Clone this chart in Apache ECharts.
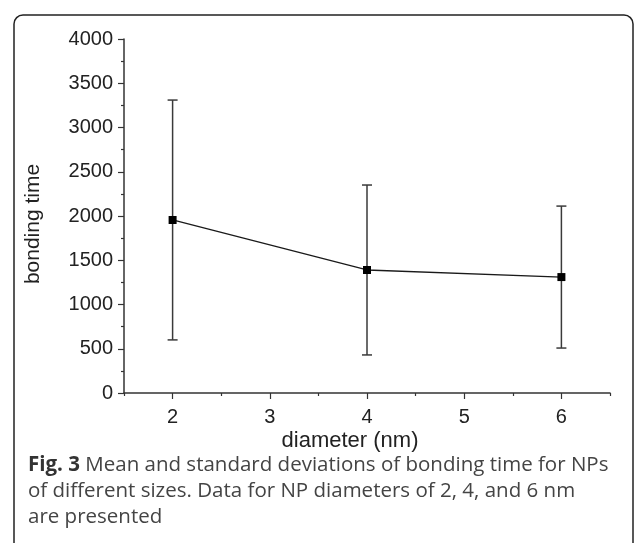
<!DOCTYPE html>
<html>
<head>
<meta charset="utf-8">
<script src="https://cdn.jsdelivr.net/npm/echarts@6/dist/echarts.min.js"></script>
<style>html,body{margin:0;padding:0;background:#fff}#c{width:634px;height:543px}</style>
</head>
<body>
<div id="c"></div>
<script>
// Data
const diameters = [2, 4, 6];
const meanTime = [1955, 1390, 1310];
const lowerTime = [600, 430, 508];
const upperTime = [3310, 2350, 2112];
const yTicks = [0, 500, 1000, 1500, 2000, 2500, 3000, 3500, 4000];
const xTickLabels = [2, 3, 4, 5, 6];
const xMinorTicks = [1.5, 2.5, 3.5, 4.5, 5.5, 6.5];
const xTitle = 'diameter (nm)';
const yTitle = 'bonding time';
const captionBold = 'Fig. 3';
const captionLines = [
  ' Mean and standard deviations of bonding time for NPs',
  'of different sizes. Data for NP diameters of 2, 4, and 6 nm',
  'are presented'
];

const chart = echarts.init(document.getElementById('c'), null, {renderer: 'canvas'});
const axisColor = '#333';
const textColor = '#222';
const font = 'Liberation Sans';

const meanPts = diameters.map((d, i) => [d, meanTime[i]]);
const errPts = diameters.map((d, i) => [d, lowerTime[i], upperTime[i]]);

chart.setOption({
  animation: false,
  backgroundColor: '#fff',
  grid: {left: 124, right: 24, top: 39, bottom: 150},
  xAxis: [{
    type: 'value', min: 1.5, max: 6.5,
    axisLine: {lineStyle: {color: axisColor, width: 1.5}},
    axisTick: {customValues: xTickLabels, length: 6, lineStyle: {color: axisColor, width: 1.2}},
    axisLabel: {customValues: xTickLabels, margin: 14, color: textColor, fontFamily: font, fontSize: 20},
    splitLine: {show: false}
  }, {
    type: 'value', min: 1.5, max: 6.5, position: 'bottom',
    axisLine: {show: false},
    axisTick: {customValues: xMinorTicks, length: 3, lineStyle: {color: axisColor, width: 1.2}},
    axisLabel: {show: false},
    splitLine: {show: false}
  }],
  yAxis: {
    type: 'value', min: yTicks[0], max: yTicks[yTicks.length - 1], interval: 500,
    axisLine: {show: true, lineStyle: {color: axisColor, width: 1.5}},
    axisTick: {show: true, length: 6, lineStyle: {color: axisColor, width: 1.2}},
    minorTick: {show: true, splitNumber: 2, length: 3, lineStyle: {color: axisColor, width: 1.2}},
    axisLabel: {margin: 11, color: textColor, fontFamily: font, fontSize: 20, formatter: v => String(v)},
    splitLine: {show: false}
  },
  series: [{
    type: 'custom',
    xAxisIndex: 0,
    data: errPts,
    z: 2,
    renderItem: function (params, api) {
      const x = api.value(0);
      const lo = api.coord([x, api.value(1)]);
      const hi = api.coord([x, api.value(2)]);
      const hw = 5;
      const st = {stroke: '#3a3a3a', lineWidth: 1.5};
      return {type: 'group', children: [
        {type: 'line', shape: {x1: lo[0], y1: lo[1], x2: hi[0], y2: hi[1]}, style: st},
        {type: 'line', shape: {x1: lo[0] - hw, y1: lo[1], x2: lo[0] + hw, y2: lo[1]}, style: st},
        {type: 'line', shape: {x1: hi[0] - hw, y1: hi[1], x2: hi[0] + hw, y2: hi[1]}, style: st}
      ]};
    }
  }, {
    type: 'line',
    xAxisIndex: 0,
    data: meanPts,
    z: 3,
    symbol: 'rect',
    symbolSize: 8,
    itemStyle: {color: '#000'},
    lineStyle: {color: '#1a1a1a', width: 1.3}
  }],
  graphic: [{
    type: 'rect',
    shape: {x: 14, y: 15, width: 619, height: 600, r: 9},
    style: {fill: 'none', stroke: '#222', lineWidth: 1.5}
  }, {
    type: 'text',
    x: 33, y: 224, rotation: Math.PI / 2,
    style: {text: yTitle, fill: textColor, font: '21px "Liberation Sans"', align: 'center', verticalAlign: 'middle'}
  }, {
    type: 'text',
    x: 350, y: 441,
    style: {text: xTitle, fill: textColor, font: '22px "Liberation Sans"', align: 'center', verticalAlign: 'middle'}
  }, {
    type: 'text',
    x: 28, y: 452,
    style: {
      text: '{b|' + captionBold + '}{n|' + captionLines[0] + '}\n{n|' + captionLines[1] + '}\n{n|' + captionLines[2] + '}',
      rich: {
        b: {fontFamily: 'Open Sans', fontWeight: 'bold', fontSize: 20.5, fill: '#333', lineHeight: 26},
        n: {fontFamily: 'Open Sans', fontSize: 20.5, fill: '#444', lineHeight: 26}
      },
      verticalAlign: 'top'
    }
  }]
});
</script>
</body>
</html>
